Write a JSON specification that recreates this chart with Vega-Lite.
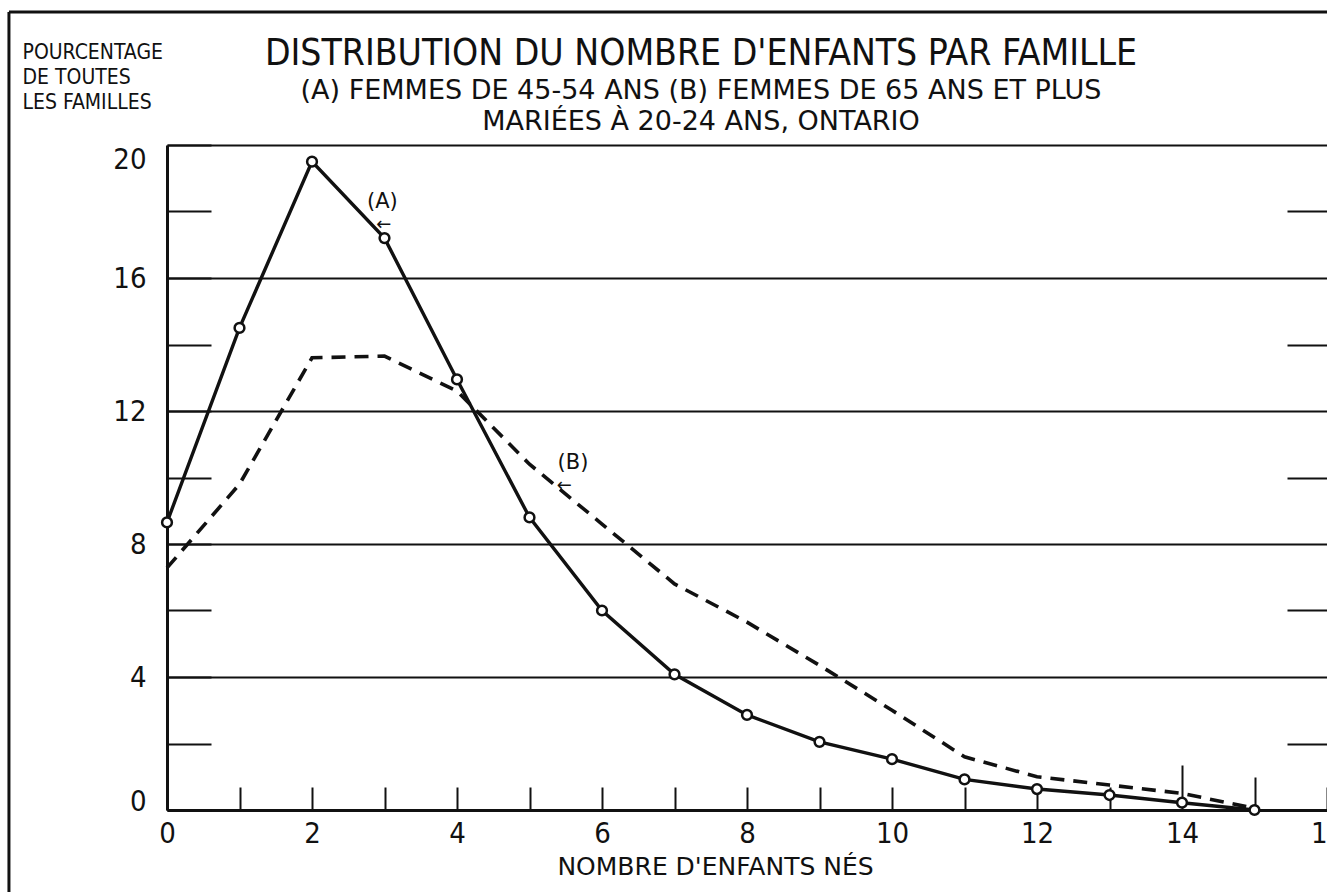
{
  "$schema": "https://vega.github.io/schema/vega-lite/v6.json",
  "autosize": {"type": "none"},
  "width": 1160,
  "height": 665,
  "padding": {"left": 167, "top": 145, "right": 0, "bottom": 82},
  "background": "#ffffff",
  "config": {"view": {"stroke": null}, "font": "DejaVu Sans Condensed, Roboto Condensed, Roboto, sans-serif"},
  "title": {
    "text": "DISTRIBUTION DU NOMBRE D'ENFANTS PAR FAMILLE",
    "subtitle": ["(A)  FEMMES DE 45-54 ANS   (B) FEMMES DE 65 ANS ET PLUS", "MARIÉES À 20-24 ANS, ONTARIO"],
    "anchor": "middle",
    "frame": "group",
    "font": "DejaVu Sans Condensed, Roboto Condensed, Roboto, sans-serif",
    "fontSize": 37,
    "fontWeight": "normal",
    "color": "#111111",
    "subtitleFont": "DejaVu Sans",
    "subtitleFontSize": 27,
    "subtitleColor": "#111111",
    "subtitleLineHeight": 31,
    "subtitlePadding": 5,
    "dx": -46,
    "offset": -125
  },
  "datasets": {
    "courbes": [
      {"n": 0, "pct": 8.65, "serie": "A"},
      {"n": 1, "pct": 14.5, "serie": "A"},
      {"n": 2, "pct": 19.5, "serie": "A"},
      {"n": 3, "pct": 17.2, "serie": "A"},
      {"n": 4, "pct": 12.95, "serie": "A"},
      {"n": 5, "pct": 8.8, "serie": "A"},
      {"n": 6, "pct": 6.0, "serie": "A"},
      {"n": 7, "pct": 4.08, "serie": "A"},
      {"n": 8, "pct": 2.86, "serie": "A"},
      {"n": 9, "pct": 2.05, "serie": "A"},
      {"n": 10, "pct": 1.53, "serie": "A"},
      {"n": 11, "pct": 0.92, "serie": "A"},
      {"n": 12, "pct": 0.63, "serie": "A"},
      {"n": 13, "pct": 0.45, "serie": "A"},
      {"n": 14, "pct": 0.22, "serie": "A"},
      {"n": 15, "pct": 0.0, "serie": "A"},
      {"n": 0, "pct": 7.28, "serie": "B"},
      {"n": 1, "pct": 9.8, "serie": "B"},
      {"n": 2, "pct": 13.6, "serie": "B"},
      {"n": 3, "pct": 13.65, "serie": "B"},
      {"n": 4, "pct": 12.6, "serie": "B"},
      {"n": 5, "pct": 10.4, "serie": "B"},
      {"n": 6, "pct": 8.6, "serie": "B"},
      {"n": 7, "pct": 6.8, "serie": "B"},
      {"n": 8, "pct": 5.65, "serie": "B"},
      {"n": 9, "pct": 4.35, "serie": "B"},
      {"n": 10, "pct": 3.0, "serie": "B"},
      {"n": 11, "pct": 1.6, "serie": "B"},
      {"n": 12, "pct": 1.0, "serie": "B"},
      {"n": 13, "pct": 0.75, "serie": "B"},
      {"n": 14, "pct": 0.5, "serie": "B"},
      {"n": 15, "pct": 0.05, "serie": "B"}
    ],
    "notes": [
      {"n": 2.97, "pct": 18.3, "txt": "(A)"},
      {"n": 5.6, "pct": 10.45, "txt": "(B)"}
    ],
    "fleches": [
      {"n": 2.99, "pct": 17.6, "txt": "←"},
      {"n": 5.48, "pct": 9.75, "txt": "←"}
    ]
  },
  "layer": [
    {
      "data": {"values": [{}]},
      "mark": {"type": "rule", "clip": false, "strokeWidth": 3, "color": "#111111"},
      "encoding": {
        "x": {"datum": -2.18, "type": "quantitative", "scale": {"domain": [0, 16], "nice": false}, "axis": null},
        "y": {"datum": 24.0, "type": "quantitative", "scale": {"domain": [0, 20], "nice": false}, "axis": null},
        "y2": {"datum": -2.7}
      }
    },
    {
      "data": {"values": [{}]},
      "mark": {"type": "rule", "clip": false, "strokeWidth": 3, "color": "#111111"},
      "encoding": {
        "x": {"datum": -2.18, "type": "quantitative", "axis": null},
        "x2": {"datum": 16.5},
        "y": {"datum": 24.0, "type": "quantitative", "axis": null}
      }
    },
    {
      "data": {"name": "courbes"},
      "transform": [{"filter": "datum.serie == 'A'"}],
      "mark": {
        "type": "line",
        "color": "#111111",
        "strokeWidth": 3.4,
        "point": {"filled": true, "fill": "#ffffff", "stroke": "#111111", "strokeWidth": 2.5, "size": 95, "opacity": 1}
      },
      "encoding": {
        "x": {
          "field": "n", "type": "quantitative",
          "scale": {"domain": [0, 16], "nice": false},
          "axis": {
            "values": [0,1,2,3,4,5,6,7,8,9,10,11,12,13,14,15,16],
            "labelExpr": "datum.value % 2 == 0 ? datum.label : ''",
            "grid": false,
            "tickSize": {"condition": [{"test": "datum.value == 14", "value": -45}, {"test": "datum.value == 15", "value": -33}], "value": -23},
            "tickWidth": 2,
            "tickColor": "#111111",
            "domainWidth": 3,
            "domainColor": "#111111",
            "labelFont": "DejaVu Sans Condensed, Roboto Condensed, Roboto, sans-serif",
            "labelFontSize": 29,
            "labelColor": "#111111",
            "labelPadding": {"condition": {"test": "datum.value == 14", "value": 54}, "value": 32},
            "labelFlush": false,
            "title": "NOMBRE D'ENFANTS NÉS",
            "titleFont": "DejaVu Sans",
            "titleFontSize": 25,
            "titleFontWeight": "normal",
            "titleColor": "#111111",
            "titleX": 548,
            "titleY": 56,
            "titleBaseline": "middle"
          }
        },
        "y": {
          "field": "pct", "type": "quantitative",
          "scale": {"domain": [0, 20], "nice": false},
          "axis": {
            "values": [0,2,4,6,8,10,12,14,16,18,20],
            "labelExpr": "datum.value % 4 == 0 ? datum.label : ''",
            "grid": true,
            "gridColor": "#111111",
            "gridWidth": 1.9,
            "gridOpacity": {"condition": {"test": "datum.value % 4 == 0", "value": 1}, "value": 0},
            "tickSize": -44,
            "tickWidth": 2,
            "tickColor": "#111111",
            "domainWidth": 3,
            "domainColor": "#111111",
            "labelFont": "DejaVu Sans Condensed, Roboto Condensed, Roboto, sans-serif",
            "labelFontSize": 29,
            "labelColor": "#111111",
            "labelPadding": 65,
            "labelFlush": false,
            "labelBaseline": {"condition": [{"test": "datum.value == 20", "value": "top"}, {"test": "datum.value == 0", "value": "alphabetic"}], "value": "middle"},
            "title": ["POURCENTAGE", "DE TOUTES", "LES FAMILLES"],
            "titleAngle": 0,
            "titleAlign": "left",
            "titleBaseline": "top",
            "titleX": -145,
            "titleY": -104,
            "titleFont": "DejaVu Sans Condensed, Roboto Condensed, Roboto, sans-serif",
            "titleFontSize": 21,
            "titleFontWeight": "normal",
            "titleColor": "#111111",
            "titleLineHeight": 25
          }
        }
      }
    },
    {
      "data": {"name": "courbes"},
      "transform": [{"filter": "datum.serie == 'B'"}],
      "mark": {"type": "line", "color": "#111111", "strokeWidth": 3.6, "strokeDash": [14, 9]},
      "encoding": {
        "x": {"field": "n", "type": "quantitative", "axis": null},
        "y": {
          "field": "pct", "type": "quantitative",
          "axis": {
            "orient": "right",
            "values": [2, 6, 10, 14, 18],
            "labels": false,
            "domain": false,
            "grid": false,
            "tickSize": -40,
            "tickWidth": 2,
            "tickColor": "#111111",
            "title": null
          }
        }
      }
    },
    {
      "data": {"name": "notes"},
      "mark": {"type": "text", "font": "DejaVu Sans", "fontSize": 21, "color": "#111111", "align": "center", "baseline": "middle"},
      "encoding": {
        "x": {"field": "n", "type": "quantitative", "axis": null},
        "y": {"field": "pct", "type": "quantitative", "axis": null},
        "text": {"field": "txt"}
      }
    },
    {
      "data": {"name": "fleches"},
      "mark": {"type": "text", "font": "DejaVu Sans", "fontSize": 18, "color": "#111111", "align": "center", "baseline": "middle"},
      "encoding": {
        "x": {"field": "n", "type": "quantitative", "axis": null},
        "y": {"field": "pct", "type": "quantitative", "axis": null},
        "text": {"field": "txt"}
      }
    }
  ],
  "resolve": {"axis": {"y": "independent", "x": "independent"}}
}
